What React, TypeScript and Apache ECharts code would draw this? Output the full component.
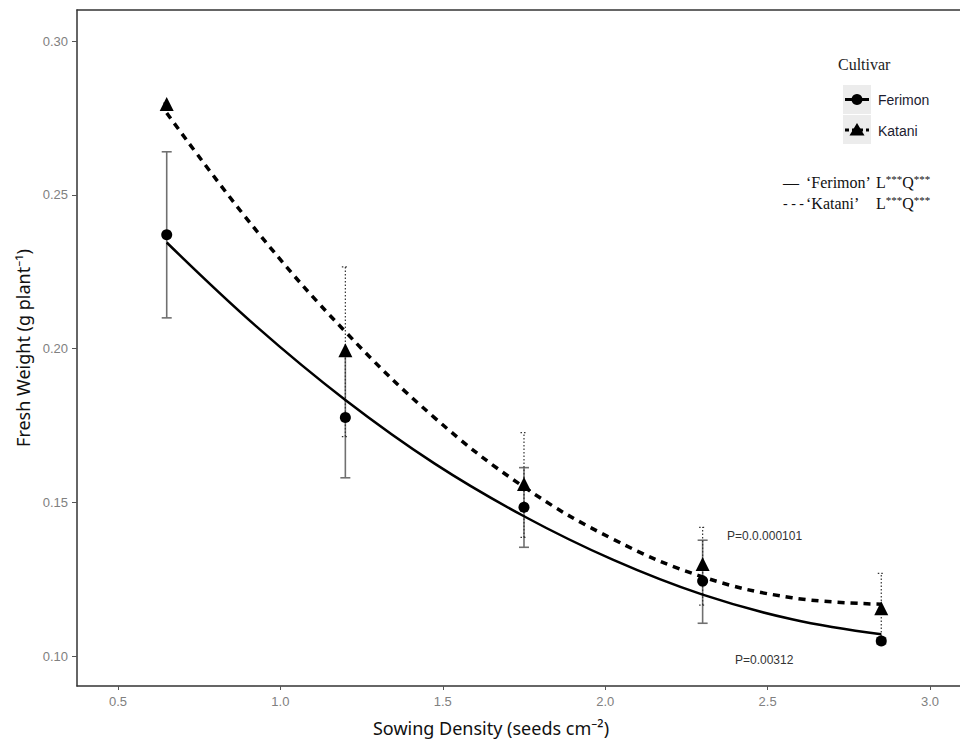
import React, { useEffect, useRef } from "react";
import * as echarts from "echarts";

// Sowing densities (seeds cm^-2)
const densities = [0.65, 1.2, 1.75, 2.3, 2.85];

// Observed means and error bar limits
const ferimonMean = [0.237, 0.1776, 0.1484, 0.1244, 0.1049];
const ferimonLow = [0.21, 0.158, 0.1354, 0.1107, 0.104];
const ferimonHigh = [0.264, 0.198, 0.1613, 0.1377, 0.106];

const kataniMean = [0.2795, 0.1995, 0.156, 0.13, 0.1156];
const kataniLow = [0.2792, 0.1714, 0.1386, 0.1166, 0.1043];
const kataniHigh = [0.2798, 0.2266, 0.1727, 0.1419, 0.1269];

// Fitted curves
const fitX = [0.65, 0.925, 1.2, 1.475, 1.75, 2.025, 2.3, 2.575, 2.85];
const ferimonFit = [0.2345, 0.2073, 0.1833, 0.1626, 0.1455, 0.1313, 0.12, 0.112, 0.1071];
const kataniFit = [0.2766, 0.2385, 0.2055, 0.1775, 0.155, 0.138, 0.1258, 0.119, 0.1169];

const yTicks = [0.1, 0.15, 0.2, 0.25, 0.3];
const xTicks = [0.5, 1.0, 1.5, 2.0, 2.5, 3.0];

const pFerimon = "P=0.00312";
const pKatani = "P=0.0.000101";

function errorSeries(name: string, lows: number[], highs: number[], style: any, capW: number) {
  return {
    type: "custom",
    name,
    data: densities.map((x, i) => [x, lows[i], highs[i]]),
    encode: { x: 0, y: [1, 2] },
    z: 1,
    renderItem: (params: any, api: any) => {
      const x = api.value(0);
      const lo = api.coord([x, api.value(1)]);
      const hi = api.coord([x, api.value(2)]);
      return {
        type: "group",
        children: [
          { type: "line", shape: { x1: lo[0], y1: lo[1], x2: hi[0], y2: hi[1] }, style },
          { type: "line", shape: { x1: lo[0] - capW, y1: lo[1], x2: lo[0] + capW, y2: lo[1] }, style },
          { type: "line", shape: { x1: hi[0] - capW, y1: hi[1], x2: hi[0] + capW, y2: hi[1] }, style },
        ],
      };
    },
  };
}

export default function App() {
  const ref = useRef<HTMLDivElement>(null);

  useEffect(() => {
    if (!ref.current) return;
    const chart = echarts.init(ref.current, null, { renderer: "svg" });
    const serif = "'Liberation Serif', 'Times New Roman', serif";
    const sans = "'Liberation Sans', Arial, sans-serif";
    const supRich = {
      n: { fontSize: 16, fontFamily: serif, fill: "#111", lineHeight: 18 },
      s: { fontSize: 11, fontFamily: serif, fill: "#111", lineHeight: 11, verticalAlign: "top" },
    };

    chart.setOption({
      animation: false,
      backgroundColor: "#ffffff",
      grid: { left: 77, right: 0, top: 10, bottom: 55, containLabel: false },
      xAxis: [
        {
          type: "value",
          min: 0.3738,
          max: 3.0924,
          name: "Sowing Density (seeds cm\u207B\u00B2)",
          nameLocation: "middle",
          nameGap: 33,
          nameTextStyle: {
            fontSize: 18,
            fontFamily: "'Noto Sans', 'Open Sans', sans-serif",
            color: "#111",
            padding: [0, 55, 0, 0],
          },
          splitLine: { show: false },
          axisLine: { show: true, onZero: false, lineStyle: { color: "#333", width: 1.5 } },
          axisTick: { show: true, customValues: xTicks, length: 4, lineStyle: { color: "#555" } },
          axisLabel: {
            customValues: xTicks,
            formatter: (v: number) => v.toFixed(1),
            color: "#808080",
            fontSize: 13,
            fontFamily: sans,
            margin: 9,
          },
        },
        {
          type: "value",
          position: "top",
          min: 0.3738,
          max: 3.0924,
          splitLine: { show: false },
          axisLine: { show: true, onZero: false, lineStyle: { color: "#333", width: 1.5 } },
          axisTick: { show: false },
          axisLabel: { show: false },
        },
      ],
      yAxis: {
        type: "value",
        min: 0.0903,
        max: 0.3101,
        name: "Fresh Weight (g plant\u207B\u00B9)",
        nameLocation: "middle",
        nameGap: 45,
        nameTextStyle: {
          fontSize: 18,
          fontFamily: "'Noto Sans', 'Open Sans', sans-serif",
          color: "#111",
        },
        splitLine: { show: false },
        axisLine: { show: true, onZero: false, lineStyle: { color: "#333", width: 1.5 } },
        axisTick: { show: true, customValues: yTicks, length: 5, lineStyle: { color: "#555" } },
        axisLabel: {
          customValues: yTicks,
          formatter: (v: number) => v.toFixed(2),
          color: "#808080",
          fontSize: 13,
          fontFamily: sans,
          margin: 9,
        },
      },
      series: [
        errorSeries("Ferimon SE", ferimonLow, ferimonHigh, { stroke: "#707070", lineWidth: 1.6 }, 5),
        errorSeries(
          "Katani SE",
          kataniLow,
          kataniHigh,
          { stroke: "#333", lineWidth: 1.2, lineDash: [1.5, 2] },
          3.5
        ),
        {
          type: "line",
          name: "Ferimon fit",
          data: fitX.map((x, i) => [x, ferimonFit[i]]),
          smooth: 0.4,
          symbol: "none",
          z: 2,
          lineStyle: { color: "#000", width: 2.5 },
        },
        {
          type: "line",
          name: "Katani fit",
          data: fitX.map((x, i) => [x, kataniFit[i]]),
          smooth: 0.4,
          symbol: "none",
          z: 2,
          lineStyle: { color: "#000", width: 3.5, type: [7, 6] },
        },
        {
          type: "scatter",
          name: "Ferimon",
          data: densities.map((x, i) => [x, ferimonMean[i]]),
          symbol: "circle",
          symbolSize: 11,
          z: 3,
          itemStyle: { color: "#000", opacity: 1 },
        },
        {
          type: "scatter",
          name: "Katani",
          data: densities.map((x, i) => [x, kataniMean[i]]),
          symbol: "triangle",
          symbolSize: 14,
          z: 3,
          itemStyle: { color: "#000", opacity: 1 },
        },
      ],
      graphic: [
        {
          type: "text",
          x: 838,
          y: 64,
          style: { text: "Cultivar", font: `16px ${serif}`, fill: "#222", verticalAlign: "middle" },
        },
        { type: "rect", shape: { x: 843, y: 85, width: 28, height: 29 }, style: { fill: "#ececec" } },
        { type: "rect", shape: { x: 843, y: 115, width: 28, height: 29 }, style: { fill: "#ececec" } },
        { type: "line", shape: { x1: 845, y1: 99.5, x2: 869, y2: 99.5 }, style: { stroke: "#000", lineWidth: 3 } },
        { type: "circle", shape: { cx: 857, cy: 99.5, r: 5.5 }, style: { fill: "#000" } },
        {
          type: "line",
          shape: { x1: 845, y1: 130, x2: 869, y2: 130 },
          style: { stroke: "#000", lineWidth: 3, lineDash: [4, 3] },
        },
        {
          type: "polygon",
          shape: { points: [[857, 123], [864.5, 135.5], [849.5, 135.5]] },
          style: { fill: "#000" },
        },
        {
          type: "text",
          x: 878,
          y: 100,
          style: { text: "Ferimon", font: `14px ${sans}`, fill: "#1c1c30", verticalAlign: "middle" },
        },
        {
          type: "text",
          x: 878,
          y: 131,
          style: { text: "Katani", font: `14px ${sans}`, fill: "#1c1c30", verticalAlign: "middle" },
        },
        {
          type: "text",
          x: 783,
          y: 182,
          style: { text: "\u2014", font: `16px ${serif}`, fill: "#111", verticalAlign: "middle" },
        },
        {
          type: "text",
          x: 806,
          y: 182,
          style: { text: "\u2018Ferimon\u2019", font: `16px ${serif}`, fill: "#111", verticalAlign: "middle" },
        },
        {
          type: "text",
          x: 876,
          y: 182,
          style: { text: "{n|L}{s|***}{n|Q}{s|***}", rich: supRich, verticalAlign: "middle" },
        },
        {
          type: "text",
          x: 783,
          y: 203,
          style: { text: "- - -", font: `14px ${serif}`, fill: "#111", verticalAlign: "middle" },
        },
        {
          type: "text",
          x: 806,
          y: 203,
          style: { text: "\u2018Katani\u2019", font: `16px ${serif}`, fill: "#111", verticalAlign: "middle" },
        },
        {
          type: "text",
          x: 876,
          y: 203,
          style: { text: "{n|L}{s|***}{n|Q}{s|***}", rich: supRich, verticalAlign: "middle" },
        },
        {
          type: "text",
          x: 727,
          y: 536,
          style: { text: pKatani, font: `12px ${sans}`, fill: "#333", verticalAlign: "middle" },
        },
        {
          type: "text",
          x: 735,
          y: 660,
          style: { text: pFerimon, font: `12px ${sans}`, fill: "#333", verticalAlign: "middle" },
        },
      ],
    });

    return () => chart.dispose();
  }, []);

  return (
    <div
      ref={ref}
      style={{ position: "fixed", left: 0, top: 0, width: 960, height: 742, background: "#fff" }}
    />
  );
}
